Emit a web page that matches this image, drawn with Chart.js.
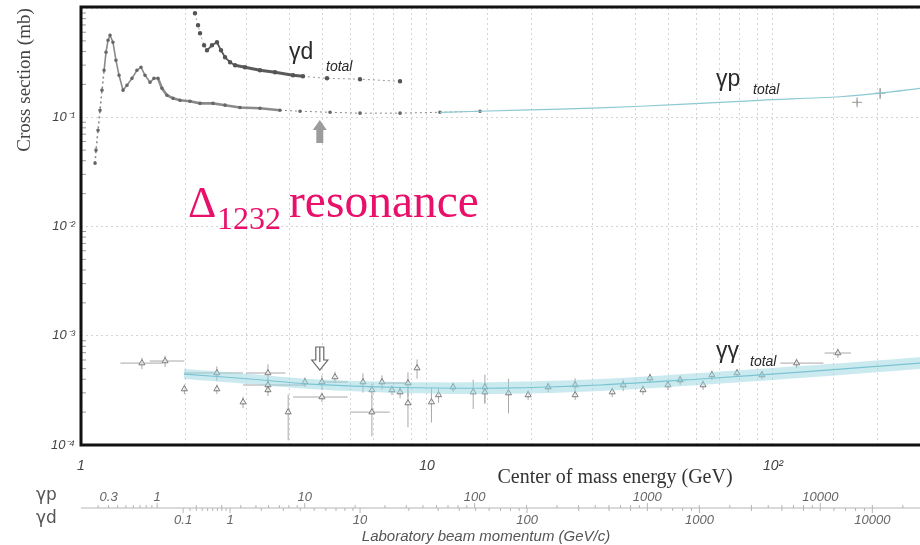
<!DOCTYPE html>
<html><head><meta charset="utf-8">
<script src="https://cdn.jsdelivr.net/npm/chart.js@4/dist/chart.umd.min.js"></script>
<style>html,body{margin:0;padding:0;background:#fff}#wrap{width:920px;height:545px}</style>
</head><body><div id="wrap"><canvas id="c" width="920" height="545"></canvas></div>
<script>
// ---- data (centre-of-mass energy in GeV, cross section in mb) ----
const gpSqrtS = [1.098,1.105,1.120,1.135,1.150,1.166,1.181,1.197,1.213,1.237,1.262,1.288,1.323,1.358,1.404,1.451,1.491,1.531,1.583,1.625,1.669,1.714,1.772,1.845,1.932,2.065,2.208,2.407,2.608,2.881,3.291,3.759,4.296,5.245,6.403,8.356,10.90,14.23];
const gpSigma  = [0.038,0.050,0.076,0.116,0.177,0.269,0.393,0.506,0.563,0.486,0.332,0.242,0.177,0.196,0.227,0.269,0.287,0.242,0.209,0.227,0.227,0.184,0.159,0.149,0.143,0.140,0.134,0.134,0.129,0.123,0.121,0.116,0.1135,0.111,0.109,0.109,0.111,0.1135];
const gpFitSqrtS = [10.90,18.57,31.62,53.85,91.7,156.2,203.8,266];
const gpFitSigma = [0.111,0.116,0.122,0.131,0.143,0.154,0.166,0.184];
const gpHighSqrtS = [175,204];
const gpHighSigma = [0.137,0.166];
const gpHighErr   = [0.06,0.12];

const gdSqrtS = [2.135,2.179,2.208,2.268,2.313,2.391,2.472,2.539,2.608,2.696,2.787,2.978,3.291,3.637,4.100,4.381,5.140,6.403,8.356];
const gdSigma = [0.894,0.695,0.587,0.456,0.410,0.456,0.486,0.410,0.354,0.319,0.299,0.287,0.269,0.258,0.242,0.237,0.227,0.223,0.2135];

const ggSqrtS = [1.50,1.75,1.99,2.47,2.47,2.94,3.47,3.47,3.47,3.97,4.44,4.97,4.97,5.42,6.53,6.93,6.93,7.41,7.92,8.36,8.81,8.81,9.36,10.3,10.8,11.9,13.6,14.7,14.7,17.2,19.6,22.4,26.8,26.8,34.3,36.9,42.1,44.1,49.7,53.9,62.8,66.6,78.7,92.9,117,154];
const ggSigma = [5.62e-4,5.87e-4,3.25e-4,4.56e-4,3.25e-4,2.47e-4,4.56e-4,3.54e-4,3.19e-4,2.00e-4,3.77e-4,3.77e-4,2.75e-4,4.19e-4,3.77e-4,2.00e-4,3.19e-4,3.77e-4,3.19e-4,3.05e-4,3.69e-4,2.42e-4,5.06e-4,2.47e-4,2.87e-4,3.39e-4,3.05e-4,3.39e-4,3.05e-4,2.99e-4,2.87e-4,3.39e-4,3.54e-4,2.87e-4,3.05e-4,3.54e-4,3.19e-4,4.10e-4,3.54e-4,3.93e-4,3.54e-4,4.37e-4,4.56e-4,4.37e-4,5.62e-4,6.95e-4];
const ggErr = [0.12,0.12,0.10,0.15,0.10,0.12,0.20,0.15,0.12,0.45,0.10,0.15,0.10,0.12,0.20,0.40,0.15,0.15,0.10,0.12,0.25,0.40,0.20,0.35,0.15,0.10,0.30,0.30,0.20,0.35,0.10,0.10,0.15,0.10,0.10,0.12,0.10,0.10,0.10,0.10,0.10,0.10,0.08,0.08,0.10,0.10];
const ggXerr = [[1.30,1.72],[1.58,1.99],null,[1.99,2.94],null,null,[3.0,3.9],[2.94,4.47],null,null,null,[4.97,5.9],[4.1,5.9],null,null,[6.0,7.8],null,null,null,null,[7.3,8.8],null,null,null,null,null,null,null,null,null,null,null,null,null,null,null,null,null,null,null,null,null,null,null,[105,140],[141,168]];

const ggBandSqrtS = [1.985,3.08,4.59,8.36,16.3,31.6,61.5,119.7,266];
const ggBandHi  = [4.96e-4,4.46e-4,4.02e-4,3.77e-4,3.77e-4,4.02e-4,4.56e-4,5.28e-4,6.37e-4];
const ggBandLo  = [4.02e-4,3.61e-4,3.25e-4,2.99e-4,2.93e-4,3.12e-4,3.54e-4,4.10e-4,4.96e-4];
const ggBandMid = [4.46e-4,4.02e-4,3.61e-4,3.36e-4,3.32e-4,3.54e-4,4.02e-4,4.65e-4,5.62e-4];

const xTickLabels = {0:'1', 1:'10', 2:'10\u00B2'};
const yTickLabels = {'-4':'10\u207B\u2074', '-3':'10\u207B\u00B3', '-2':'10\u207B\u00B2', '-1':'10\u207B\u00B9'};
const gpLabLabels = [0.3,1,10,100,1000,10000];
const gdLabLabels = [0.1,1,10,100,1000,10000];
const M_P = 0.938272, M_D = 1.875613;
const arrowSqrtS = 4.9;

const pts = (xs, ys) => xs.map((v,i)=>({x:v, y:ys[i]}));

const deco = {
  id:'deco',
  beforeDatasetsDraw(chart){
    const {ctx, scales:{x,y}} = chart;
    ctx.save();
    ctx.strokeStyle='#a8a8a8'; ctx.lineWidth=1;
    const L=(a,b,c,d)=>{ctx.beginPath();ctx.moveTo(a,b);ctx.lineTo(c,d);ctx.stroke();};
    ggSqrtS.forEach((s,i)=>{
      const px=x.getPixelForValue(s), py=y.getPixelForValue(ggSigma[i]);
      L(px,y.getPixelForValue(ggSigma[i]*(1+ggErr[i])),px,y.getPixelForValue(ggSigma[i]*(1-ggErr[i])));
      const xe=ggXerr[i];
      if(xe) L(x.getPixelForValue(xe[0]),py,x.getPixelForValue(xe[1]),py);
    });
    gpHighSqrtS.forEach((s,i)=>{
      const px=x.getPixelForValue(s);
      L(px,y.getPixelForValue(gpHighSigma[i]*(1+gpHighErr[i])),px,y.getPixelForValue(gpHighSigma[i]*(1-gpHighErr[i])));
    });
    ctx.restore();
  },
  afterDraw(chart){
    const {ctx, chartArea:a, scales:{x,y}} = chart;
    ctx.save();
    const L=(p,q,r,s)=>{ctx.beginPath();ctx.moveTo(p,q);ctx.lineTo(r,s);ctx.stroke();};
    // inner minor ticks on y axis
    ctx.strokeStyle='#999'; ctx.lineWidth=1;
    for(let e=-4;e<0;e++){ for(let k=2;k<10;k++){ const py=y.getPixelForValue(k*Math.pow(10,e)); L(a.left,py,a.left+5,py);} }
    // frame
    ctx.strokeStyle='#111'; ctx.lineWidth=3;
    ctx.beginPath(); ctx.moveTo(a.right+3,a.top-1); ctx.lineTo(a.left,a.top-1); ctx.lineTo(a.left,a.bottom); ctx.lineTo(a.right+3,a.bottom); ctx.stroke();

    // secondary (laboratory momentum) axes
    const yl=508;
    ctx.strokeStyle='#b5b5b5'; ctx.lineWidth=1;
    L(a.left,yl,a.right,yl);
    const sP=E=>Math.sqrt(M_P*M_P+2*M_P*E), sD=E=>Math.sqrt(M_D*M_D+2*M_D*E);
    for(let e=-1;e<=4;e++){ for(let k=1;k<10;k++){
      const E=k*Math.pow(10,e);
      let px=x.getPixelForValue(sP(E)); if(px>=a.left && px<=a.right && E>=0.2) L(px,yl,px,yl-(k===1?5:3));
      px=x.getPixelForValue(sD(E)); if(px>=a.left && px<=a.right) L(px,yl,px,yl+(k===1?5:3));
    }}
    ctx.fillStyle='#666'; ctx.font='italic 13px "Liberation Sans"'; ctx.textAlign='center'; ctx.textBaseline='middle';
    gpLabLabels.forEach(E=>ctx.fillText(String(E), x.getPixelForValue(sP(E)), 497));
    gdLabLabels.forEach(E=>ctx.fillText(String(E), x.getPixelForValue(sD(E)), 520));
    ctx.fillStyle='#555'; ctx.font='17px "DejaVu Sans"'; ctx.textAlign='left';
    ctx.fillText('\u03B3p', 36, 496); ctx.fillText('\u03B3d', 36, 519);
    ctx.font='italic 15px "Liberation Sans"'; ctx.textAlign='center'; ctx.fillStyle='#555';
    ctx.fillText('Laboratory beam momentum (GeV/c)', 486, 537);

    // axis titles
    ctx.fillStyle='#333'; ctx.font='20px "Liberation Serif"';
    ctx.fillText('Center of mass energy (GeV)', 615, 478);
    ctx.save(); ctx.translate(25,80); ctx.rotate(-Math.PI/2); ctx.fillStyle='#444'; ctx.font='19px "Liberation Serif"'; ctx.fillText('Cross section (mb)',0,0); ctx.restore();

    // curve labels
    ctx.textAlign='left'; ctx.textBaseline='alphabetic'; ctx.fillStyle='#2a2a2a';
    ctx.font='23px "Liberation Sans"'; ctx.fillText('\u03B3d', 289, 59);
    ctx.font='italic 14px "Liberation Sans"'; ctx.fillText('total', 326, 71);
    ctx.font='23px "Liberation Sans"'; ctx.fillText('\u03B3p', 716, 86);
    ctx.font='italic 14px "Liberation Sans"'; ctx.fillText('total', 753, 94);
    ctx.font='23px "Liberation Sans"'; ctx.fillText('\u03B3\u03B3', 716, 358);
    ctx.font='italic 14px "Liberation Sans"'; ctx.fillText('total', 750, 366);

    // Delta resonance annotation
    ctx.fillStyle='#e8106a';
    ctx.font='44px "Liberation Serif"'; ctx.fillText('\u0394', 188, 217);
    ctx.font='32px "Liberation Serif"'; ctx.fillText('1232', 217, 229);
    ctx.font='47.5px "Liberation Serif"'; ctx.fillText('resonance', 289, 217);

    // arrows
    const ax=x.getPixelForValue(arrowSqrtS);
    ctx.fillStyle='#9c9c9c';
    ctx.beginPath(); ctx.moveTo(ax,120); ctx.lineTo(ax+7,130); ctx.lineTo(ax+3.5,130); ctx.lineTo(ax+3.5,143); ctx.lineTo(ax-3.5,143); ctx.lineTo(ax-3.5,130); ctx.lineTo(ax-7,130); ctx.closePath(); ctx.fill();
    ctx.strokeStyle='#666'; ctx.lineWidth=1.2; ctx.fillStyle='#fff';
    ctx.beginPath(); ctx.moveTo(ax-4,347); ctx.lineTo(ax-4,360); ctx.lineTo(ax-8,360); ctx.lineTo(ax,370); ctx.lineTo(ax+8,360); ctx.lineTo(ax+4,360); ctx.lineTo(ax+4,347); ctx.closePath(); ctx.fill(); ctx.stroke();
    L(ax,347,ax,362);
    ctx.restore();
  }
};

const isDec = v => { const l=Math.log10(v); return Math.abs(l-Math.round(l))<1e-6; };

new Chart(document.getElementById('c'), {
  type:'scatter',
  data:{datasets:[
    {label:'γγ band upper', data:pts(ggBandSqrtS,ggBandHi), showLine:true, borderWidth:0, pointRadius:0, fill:'+1', backgroundColor:'rgba(150,214,226,0.5)', tension:0.3},
    {label:'γγ band lower', data:pts(ggBandSqrtS,ggBandLo), showLine:true, borderWidth:0, pointRadius:0, fill:false, tension:0.3},
    {label:'γγ fit', data:pts(ggBandSqrtS,ggBandMid), showLine:true, borderColor:'#5fb3c2', borderWidth:1.2, pointRadius:0, tension:0.3},
    {label:'γγ total', data:pts(ggSqrtS,ggSigma), pointStyle:'triangle', pointRadius:3.5, borderColor:'#7a7a7a', backgroundColor:'rgba(255,255,255,0.6)', borderWidth:1},
    {label:'γp fit', data:pts(gpFitSqrtS,gpFitSigma), showLine:true, borderColor:'#8cc9d2', borderWidth:1.2, pointRadius:0, tension:0.3},
    {label:'γp total', data:pts(gpSqrtS,gpSigma), showLine:true, borderColor:'#8a8a8a', borderWidth:1.6, pointRadius:1, pointBackgroundColor:'#666', pointBorderColor:'#666',
      segment:{borderDash:c=>c.p0DataIndex<5||c.p0DataIndex>=31?[2,3]:undefined, borderWidth:c=>c.p0DataIndex>=31?1:(c.p0DataIndex>=20?2.6:1.6)}},
    {label:'γp HERA', data:pts(gpHighSqrtS,gpHighSigma), pointStyle:'crossRot', rotation:45, pointRadius:5, borderColor:'#999', borderWidth:1},
    {label:'γd total', data:pts(gdSqrtS,gdSigma), showLine:true, borderColor:'#5a5a5a', borderWidth:2.5, pointRadius:1, pointBackgroundColor:'#555', pointBorderColor:'#555',
      segment:{borderDash:c=>c.p0DataIndex<4||c.p0DataIndex>=15?[2,3]:undefined, borderWidth:c=>c.p0DataIndex<4?1:(c.p0DataIndex>=15?1:(c.p0DataIndex>=10?3:1.8)), borderColor:c=>c.p0DataIndex>=15?'#999':(c.p0DataIndex<4?'#aaa':undefined)}}
  ]},
  options:{
    animation:false, responsive:false,
    layout:{autoPadding:false, padding:{top:8,right:0,left:0,bottom:0}},
    plugins:{legend:{display:false}, tooltip:{enabled:false}},
    scales:{
      x:{type:'logarithmic', min:1, max:266,
        afterFit:s=>{s.height=100; s.paddingLeft=0; s.paddingRight=0;},
        grid:{color:'#d4d4d4', lineWidth:1, drawTicks:false},
        border:{display:false, dash:[2,3]},
        ticks:{autoSkip:false, maxRotation:0, padding:13, color:'#444', font:{family:'Liberation Sans', style:'italic', size:14},
          callback:v=>{ if(!isDec(v)) return ''; const l=Math.round(Math.log10(v)); return xTickLabels[l] ?? ''; }}},
      y:{type:'logarithmic', min:1e-4, max:1,
        afterFit:s=>{s.width=81; s.paddingTop=0; s.paddingBottom=0;},
        grid:{color:c=>isDec(c.tick.value)?'#d4d4d4':'rgba(0,0,0,0)', lineWidth:1, drawTicks:false},
        border:{display:false, dash:[2,3]},
        ticks:{autoSkip:false, padding:6, color:'#444', font:{family:'Liberation Sans', style:'italic', size:13},
          callback:v=>{ if(!isDec(v)) return ''; const l=Math.round(Math.log10(v)); return yTickLabels[String(l)] ?? ''; }}}
    }
  },
  plugins:[deco]
});
</script></body></html>
